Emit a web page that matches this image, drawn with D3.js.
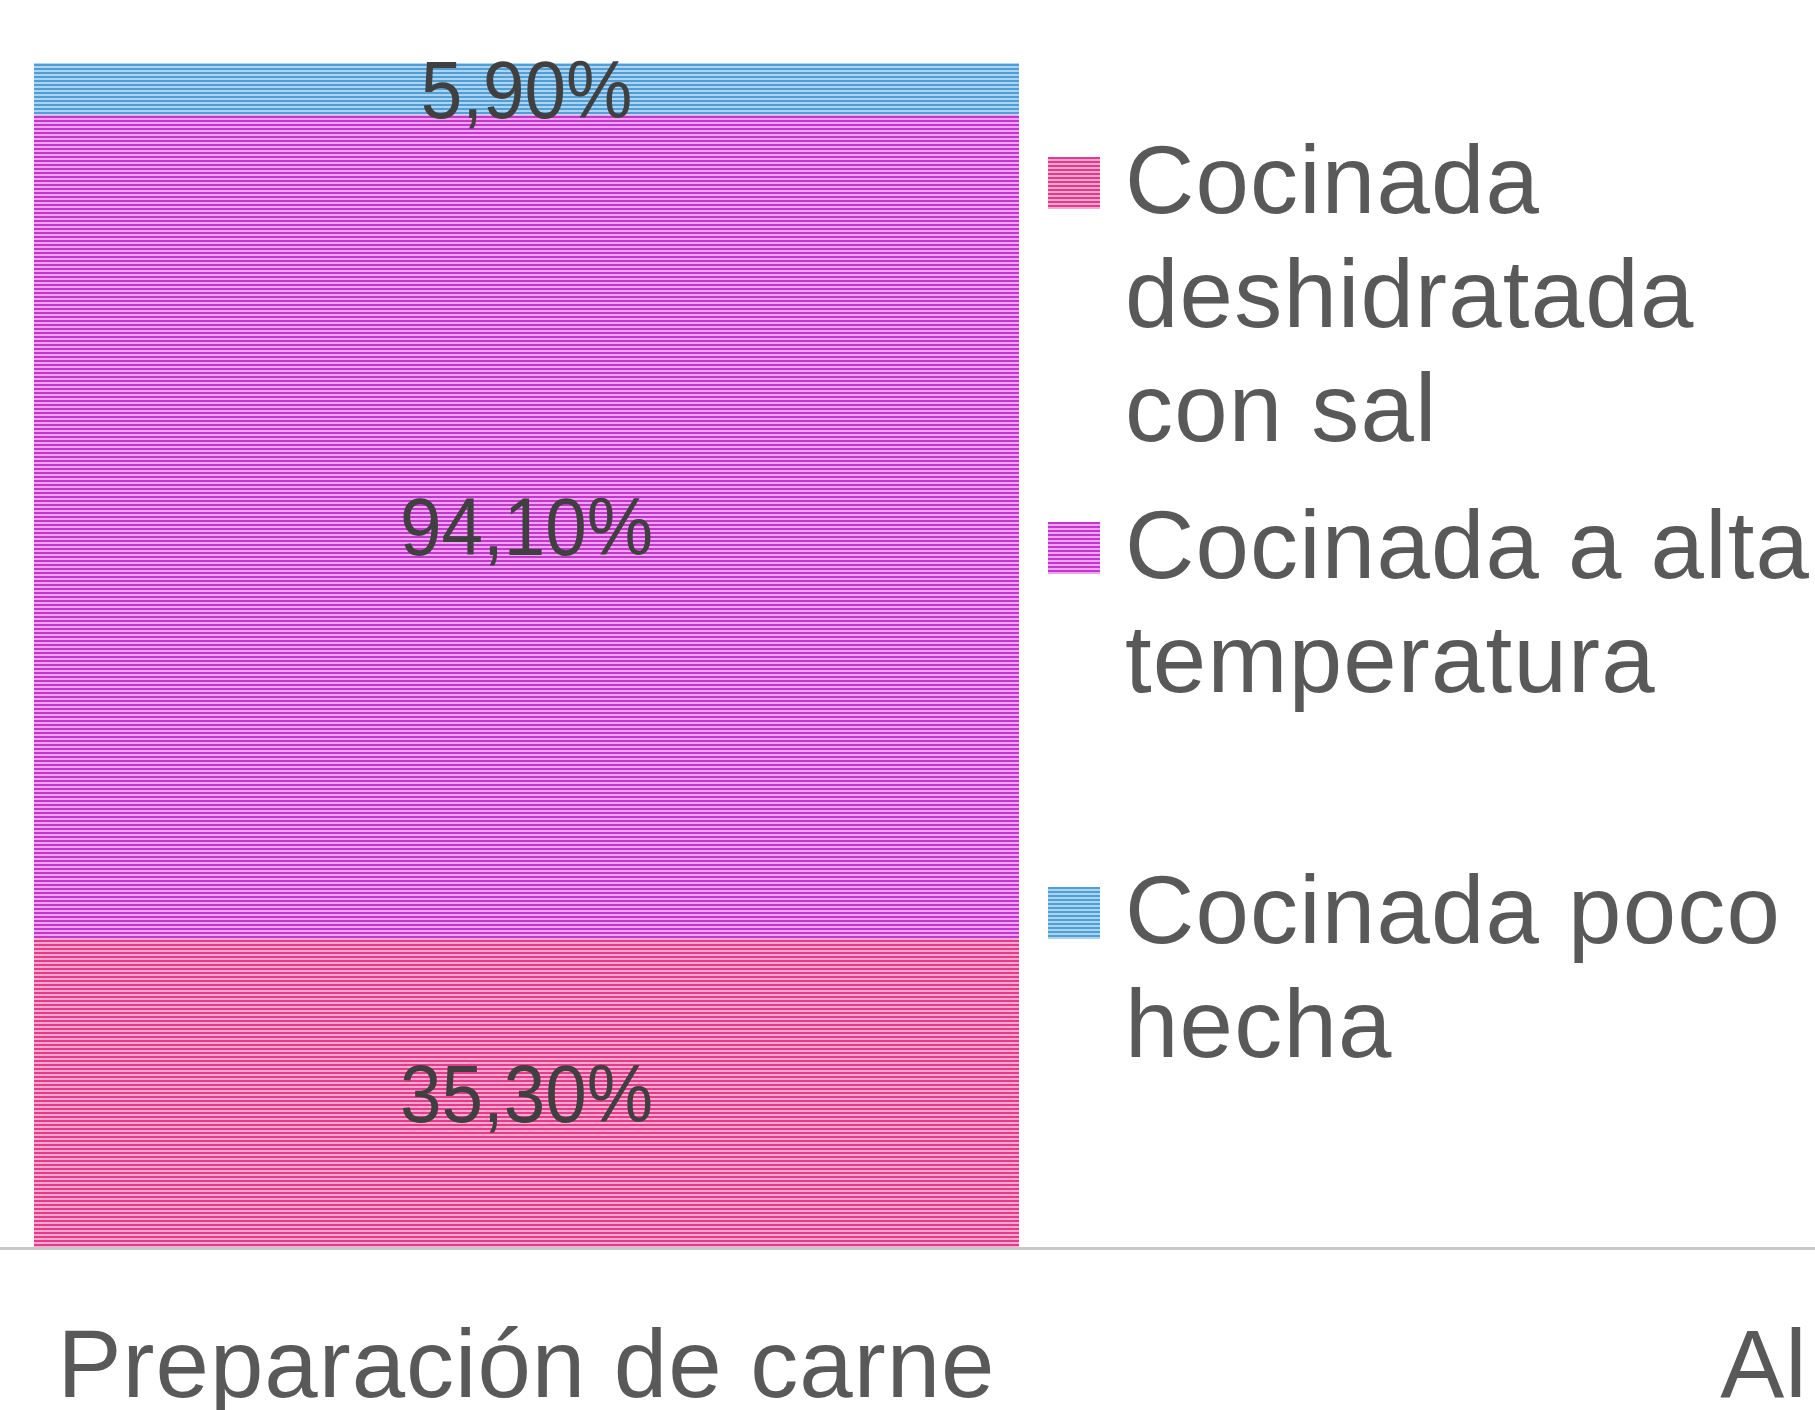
<!DOCTYPE html>
<html>
<head>
<meta charset="utf-8">
<script src="https://cdn.jsdelivr.net/npm/d3@7"></script>
<style>
  body { margin: 0; background: #ffffff; }
  svg { display: block; font-family: "Liberation Sans", Arial, sans-serif; }
</style>
</head>
<body>
<div id="vis"></div>
<script>
const FRAME_WIDTH = 1815;
const FRAME_HEIGHT = 1410;
const MARGINS = { top: 63, bottom: 163, left: 34, right: 796 };
const VIS_HEIGHT = FRAME_HEIGHT - MARGINS.top - MARGINS.bottom;

// data
const CATEGORIES = ["Preparación de carne", "Al"];
const SERIES = [
  "Cocinada deshidratada con sal",
  "Cocinada a alta temperatura",
  "Cocinada poco hecha",
];
const VALUES = [35.3, 94.1, 5.9]; // only the first category has values
const DARK = ["#e6388c", "#c634cf", "#4f9fd6"];
const LIGHT = ["#f6aacd", "#eca6ef", "#acd4f0"];

const FRAME = d3
  .select("#vis")
  .append("svg")
  .attr("width", FRAME_WIDTH)
  .attr("height", FRAME_HEIGHT);

// striped fills
const DEFS = FRAME.append("defs");
SERIES.forEach((s, i) => {
  const p = DEFS.append("pattern")
    .attr("id", "stripe" + i)
    .attr("patternUnits", "userSpaceOnUse")
    .attr("width", 4)
    .attr("height", 4);
  p.append("rect").attr("width", 4).attr("height", 4).attr("fill", LIGHT[i]);
  p.append("rect").attr("width", 4).attr("height", 2).attr("fill", DARK[i]);
});

const row = { category: CATEGORIES[0] };
SERIES.forEach((s, i) => (row[s] = VALUES[i]));
const STACKED = d3.stack().keys(SERIES)([row]);

// bar band = [34, 1019], second category centred far to the right
const BW = 985;
const STEP = 1237.5;
const PAD_IN = 1 - BW / STEP;
const PAD_OUT = 0.1;
const X0 = MARGINS.left - PAD_OUT * STEP;
const X_SCALE = d3
  .scaleBand()
  .domain(CATEGORIES)
  .range([X0, X0 + STEP * (CATEGORIES.length - PAD_IN + 2 * PAD_OUT)])
  .paddingInner(PAD_IN)
  .paddingOuter(PAD_OUT);

const Y_SCALE = d3
  .scaleLinear()
  .domain([0, d3.sum(VALUES)])
  .range([MARGINS.top + VIS_HEIGHT, MARGINS.top]);

const COLOR = d3
  .scaleOrdinal()
  .domain(SERIES)
  .range(SERIES.map((s, i) => "url(#stripe" + i + ")"));

const LAYERS = FRAME.selectAll(".layer")
  .data(STACKED)
  .enter()
  .append("g")
  .attr("class", "layer")
  .attr("fill", (d) => COLOR(d.key));

LAYERS.selectAll("rect")
  .data((d) => d)
  .enter()
  .append("rect")
  .attr("x", (d) => X_SCALE(d.data.category))
  .attr("y", (d) => Y_SCALE(d[1]))
  .attr("width", X_SCALE.bandwidth())
  .attr("height", (d) => Y_SCALE(d[0]) - Y_SCALE(d[1]));

// axis
const AXIS_Y = MARGINS.top + VIS_HEIGHT + 1.5;
const AXIS = FRAME.append("g")
  .attr("transform", `translate(0, ${AXIS_Y})`)
  .call(d3.axisBottom(X_SCALE).tickSize(0).tickPadding(0));
AXIS.select(".domain").remove();
AXIS.append("line")
  .attr("x1", 0)
  .attr("x2", FRAME_WIDTH)
  .attr("stroke", "#c8c8c8")
  .attr("stroke-width", 3);
AXIS.selectAll(".tick text")
  .attr("y", 148)
  .attr("dy", 0)
  .attr("fill", "#595959")
  .style("font-size", "96px")
  .style("letter-spacing", "1px");

// data labels (narrow look)
const fmt = (v) => d3.format(".2f")(v).replace(".", ",") + "%";
LAYERS.selectAll(".label")
  .data((d) => d.map((e) => ({ e: e, v: e[1] - e[0] })))
  .enter()
  .append("text")
  .attr("class", "label")
  .attr("transform", (d) => {
    const cx = X_SCALE(d.e.data.category) + X_SCALE.bandwidth() / 2;
    const cy = (Y_SCALE(d.e[0]) + Y_SCALE(d.e[1])) / 2 + 29;
    return `translate(${cx}, ${cy}) scale(0.91, 1)`;
  })
  .attr("text-anchor", "middle")
  .attr("fill", "#404040")
  .style("font-size", "82px")
  .text((d) => fmt(d.v));

// legend
const LEGEND_X = 1048;
const LEGEND_Y = 213;
const LEGEND_STEP = 365;
const LINE_H = 114;
const MAX_W = 700;

const LEGEND = FRAME.selectAll(".legend")
  .data(SERIES)
  .enter()
  .append("g")
  .attr("class", "legend")
  .attr("transform", (d, i) => `translate(${LEGEND_X}, ${LEGEND_Y + i * LEGEND_STEP})`);

LEGEND.append("rect")
  .attr("x", 0)
  .attr("y", -56)
  .attr("width", 52)
  .attr("height", 52)
  .attr("fill", (d) => COLOR(d));

LEGEND.each(function (name) {
  const t = d3
    .select(this)
    .append("text")
    .attr("fill", "#595959")
    .style("font-size", "96px")
    .style("letter-spacing", "1.2px");
  const words = name.split(" ");
  let line = [];
  let n = 0;
  let ts = t.append("tspan").attr("x", 77).attr("y", 0);
  words.forEach((w) => {
    line.push(w);
    ts.text(line.join(" "));
    if (ts.node().getComputedTextLength() > MAX_W && line.length > 1) {
      line.pop();
      ts.text(line.join(" "));
      line = [w];
      n++;
      ts = t.append("tspan").attr("x", 77).attr("y", n * LINE_H).text(w);
    }
  });
});
</script>
</body>
</html>
